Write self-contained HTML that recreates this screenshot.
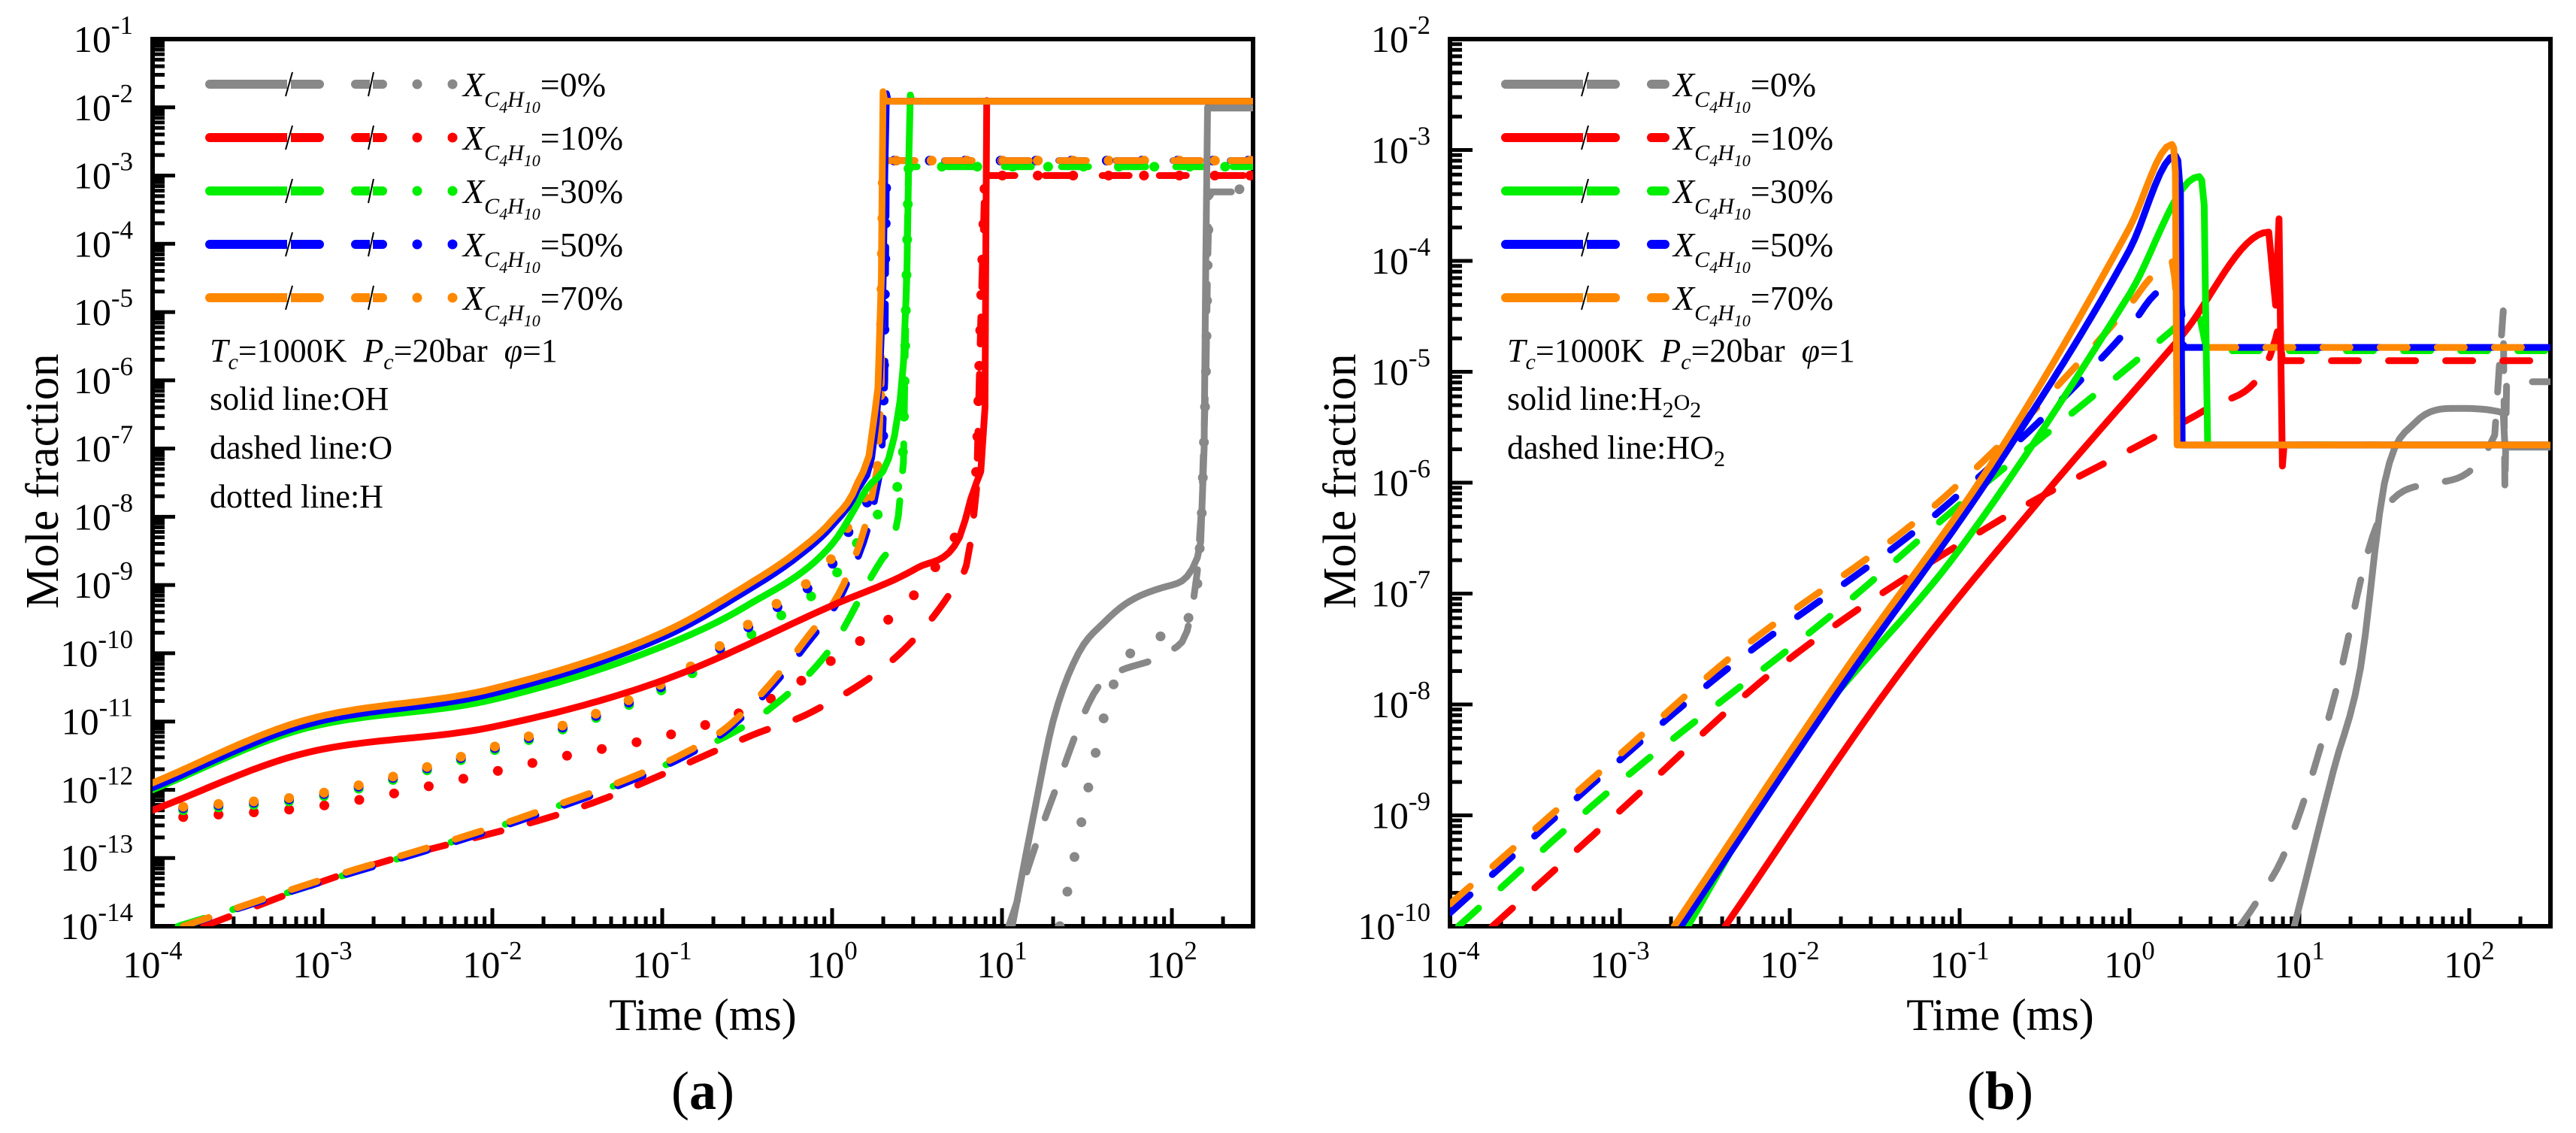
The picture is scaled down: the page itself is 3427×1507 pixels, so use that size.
<!DOCTYPE html>
<html><head><meta charset="utf-8"><style>
html,body{margin:0;padding:0;background:#fff;}
svg{display:block;font-family:"Liberation Serif",serif;}
</style></head><body>
<svg id="fig" width="3427" height="1507" viewBox="0 0 3427 1507" xmlns="http://www.w3.org/2000/svg">
<g id="panelA"></g>
<g id="panelB"></g>
</svg>
<script>
// ---------- Data (log10 of time in ms, log10 of mole fraction) ----------
const xTickExps = [-4,-3,-2,-1,0,1,2];
const yTickExpsA = [-1,-2,-3,-4,-5,-6,-7,-8,-9,-10,-11,-12,-13,-14];
const yTickExpsB = [-2,-3,-4,-5,-6,-7,-8,-9,-10];
const legendLabels = ["0%","10%","30%","50%","70%"];
const seriesColors = ["#888888","#ff0000","#00ee00","#0000ff","#ff8800"];

// Panel (a): OH solid
const ohGrayT  = [1.06,1.2,1.3,1.45,1.6,1.75,2.0,2.15,2.19,2.21,2.22,2.47];
const ohGrayY  = [-14,-12.2,-11,-10.0,-9.55,-9.24,-9.0,-8.6,-7,-2.0,-2.01,-2.01];
const ohRedT   = [-4,-3.13,-2,-1,0,0.5,0.75,0.85,0.9,0.91,0.92,2.47];
const ohRedY   = [-12.3,-11.48,-11.08,-10.4,-9.3,-8.75,-8.3,-7.5,-6.4,-1.9,-1.91,-1.91];
const ohGreenT = [-4,-3.13,-2,-1,-0.5,0,0.2,0.4,0.44,0.46,0.47,2.47];
const ohGreenY = [-12.0,-11.12,-10.68,-9.9,-9.3,-8.4,-7.6,-6.3,-4.5,-1.82,-1.91,-1.91];
const ohBlueT  = [-4,-3.13,-2,-1,-0.5,-0.2,0,0.15,0.26,0.3,0.32,0.33,2.47];
const ohBlueY  = [-11.97,-11.07,-10.59,-9.77,-9.08,-8.58,-8.13,-7.6,-6.6,-4.6,-1.8,-1.91,-1.91];
const ohOrangeT= [-4,-3.13,-2,-1,-0.5,-0.2,0,0.15,0.25,0.29,0.30,0.31,2.47];
const ohOrangeY= [-11.9,-11.0,-10.52,-9.7,-9.0,-8.5,-8.05,-7.5,-6.5,-4.5,-1.77,-1.91,-1.91];
// Panel (a): O dashed
const oGrayT  = [1.04,1.3,1.6,2.0,2.15,2.2,2.22,2.3,2.47];
const oGrayY  = [-14,-12.1,-10.4,-9.95,-8.8,-6,-3.24,-3.24,-3.24];
const oRedT   = [-3.7,-2.83,-1.45,-0.46,-0.12,0.4,0.7,0.85,0.9,0.92,2.47];
const oRedY   = [-14,-13.2,-12.23,-11.19,-10.86,-10.0,-9.1,-7.6,-3.0,-3.0,-3.0];
const oGreenT = [-3.85,-3.13,-1.8,-0.86,-0.36,0,0.3,0.42,0.45,0.47,2.47];
const oGreenY = [-14,-13.45,-12.4,-11.5,-10.8,-9.9,-8.6,-7.2,-2.87,-2.87,-2.87];
const oBlueT  = [-3.82,-3.13,-1.8,-0.86,-0.58,-0.16,0.1,0.27,0.31,0.32,0.34,2.47];
const oBlueY  = [-14,-13.45,-12.42,-11.5,-11.05,-9.9,-8.9,-7.5,-6,-2.78,-2.78,-2.78];
const oOrangeT= [-3.82,-3.13,-1.8,-0.86,-0.58,-0.16,0.1,0.25,0.29,0.30,0.32,2.47];
const oOrangeY= [-14,-13.42,-12.38,-11.45,-11.0,-9.81,-8.8,-7.5,-6,-2.78,-2.78,-2.78];
// Panel (a): H dotted
const hGrayT  = [1.34,1.7,2.0,2.15,2.2,2.22,2.47];
const hGrayY  = [-14,-10.2,-9.7,-9,-6,-3.2,-3.2];
const hRedT   = [-3.82,-2.99,-1.75,-0.5,0,0.5,0.75,0.85,0.9,0.92,2.47];
const hRedY   = [-12.4,-12.23,-11.6,-10.83,-10.1,-9.1,-8.2,-7.3,-2.95,-3.0,-3.0];
const hGreenT = [-3.82,-3.03,-2.19,-1.01,-0.4,0,0.3,0.42,0.45,0.47,2.47];
const hGreenY = [-12.3,-12.11,-11.57,-10.55,-9.6,-8.9,-7.9,-7.0,-2.87,-2.87,-2.87];
const hBlueT  = [-3.82,-3.03,-2.19,-1.01,-0.4,0,0.2,0.3,0.32,0.34,2.47];
const hBlueY  = [-12.27,-12.08,-11.54,-10.5,-9.45,-8.7,-7.8,-7.0,-2.78,-2.78,-2.78];
const hOrangeT= [-3.82,-3.03,-2.19,-1.01,-0.4,0,0.2,0.28,0.3,0.32,2.47];
const hOrangeY= [-12.25,-12.06,-11.52,-10.46,-9.4,-8.6,-7.7,-7.0,-2.78,-2.78,-2.78];

// Panel (b): H2O2 solid
const h2o2GrayT  = [0.97,1.2,1.36,1.5,1.68,1.92,2.2,2.21,2.47];
const h2o2GrayY  = [-10,-8.6,-7.67,-6.01,-5.46,-5.33,-5.37,-5.68,-5.68];
const h2o2RedT   = [-2.38,-1.37,-0.53,0.305,0.82,0.86,0.88,0.9,0.91,2.47];
const h2o2RedY   = [-10,-7.75,-6.16,-4.68,-3.74,-4.4,-3.62,-5.85,-5.66,-5.66];
const h2o2GreenT = [-2.6,-2,-1,0,0.41,0.44,0.46,0.47,2.47];
const h2o2GreenY = [-10,-8.45,-6.6,-4.3,-3.24,-3.5,-5.66,-5.66,-5.66];
const h2o2BlueT  = [-2.64,-1.7,-0.78,0,0.27,0.3,0.31,0.32,2.47];
const h2o2BlueY  = [-10,-7.85,-5.85,-3.9,-3.05,-3.4,-5.66,-5.66,-5.66];
const h2o2OrangeT= [-2.68,-1.7,-0.78,0,0.25,0.27,0.28,0.29,2.47];
const h2o2OrangeY= [-10,-7.75,-5.75,-3.7,-2.95,-3.2,-5.66,-5.66,-5.66];
// Panel (b): HO2 dashed
const ho2GrayT  = [0.65,0.74,0.93,1.22,1.4,1.49,1.77,2.15,2.2,2.21,2.22,2.47];
const ho2GrayY  = [-10,-9.8,-9.28,-7.85,-6.64,-6.27,-6.01,-5.57,-4.45,-6.09,-5.09,-5.09];
const ho2RedT   = [-3.75,-3,-2.07,-0.8,0.12,0.46,0.8,0.86,0.88,0.9,2.47];
const ho2RedY   = [-10,-8.96,-7.67,-6.37,-5.61,-5.33,-4.96,-4.7,-4.6,-4.9,-4.9];
const ho2GreenT = [-3.95,-3,-1.68,-1,0,0.24,0.4,0.44,0.46,2.47];
const ho2GreenY = [-10,-8.7,-7.1,-6.2,-4.95,-4.64,-4.45,-4.7,-4.81,-4.81];
const ho2BlueT  = [-4,-3,-2.36,-1.09,0,0.15,0.28,0.31,0.32,2.47];
const ho2BlueY  = [-9.88,-8.5,-7.67,-6.22,-4.6,-4.3,-4.2,-4.5,-4.78,-4.78];
const ho2OrangeT= [-4,-3,-2.36,-1.09,0,0.12,0.25,0.28,0.3,2.47];
const ho2OrangeY= [-9.8,-8.45,-7.59,-6.13,-4.4,-4.16,-4.0,-4.4,-4.78,-4.78];

// ---------- Helpers ----------
const NS = "http://www.w3.org/2000/svg";
function mk(tag, parent, attrs){ const e=document.createElementNS(NS,tag); for(const k in attrs) e.setAttribute(k,attrs[k]); parent.appendChild(e); return e; }

const A = {x0:203, x1:1667, y0:52, y1:1232, xmin:-4, yTop:-1, yBot:-14};
const B = {x0:1929, x1:3393, y0:52, y1:1232, xmin:-4, yTop:-2, yBot:-10};
const XDEC = 226;
function xs(p,lt){ return p.x0 + XDEC*(lt - p.xmin); }
function ys(p,ly){ return p.y0 + (p.y1-p.y0)*(p.yTop-ly)/(p.yTop-p.yBot); }

function smooth(T,Y){
  const n=T.length; if(n<3) return [T,Y];
  const d=[],m=new Array(n);
  for(let i=0;i<n-1;i++) d.push((Y[i+1]-Y[i])/(T[i+1]-T[i]));
  m[0]=d[0]; m[n-1]=d[n-2];
  for(let i=1;i<n-1;i++){ m[i]=(d[i-1]*d[i]<=0)?0:(d[i-1]+d[i])/2; }
  for(let i=0;i<n-1;i++){
    if(d[i]===0){m[i]=0;m[i+1]=0;continue;}
    const a=m[i]/d[i],b=m[i+1]/d[i],s=a*a+b*b;
    if(s>9){const t=3/Math.sqrt(s);m[i]=t*a*d[i];m[i+1]=t*b*d[i];}
  }
  const oT=[T[0]],oY=[Y[0]];
  for(let i=0;i<n-1;i++){
    const h=T[i+1]-T[i]; const N=Math.max(2,Math.min(24,Math.ceil(h*30)));
    for(let k=1;k<=N;k++){
      const t=k/N,t2=t*t,t3=t2*t;
      const y=(2*t3-3*t2+1)*Y[i]+(t3-2*t2+t)*h*m[i]+(-2*t3+3*t2)*Y[i+1]+(t3-t2)*h*m[i+1];
      oT.push(T[i]+t*h); oY.push(y);
    }
  }
  return [oT,oY];
}

function drawSeries(g,p,T,Y,color,style,name){
  const [sT,sY]=smooth(T,Y);
  let d="";
  for(let i=0;i<sT.length;i++){ d += (i?"L":"M")+xs(p,sT[i]).toFixed(1)+","+ys(p,sY[i]).toFixed(1); }
  const a={d:d,fill:"none",stroke:color,"stroke-width":9,"stroke-linecap":"round","stroke-linejoin":"round","clip-path":"url(#"+p.clip+")"};
  if(style==="dash") a["stroke-dasharray"]="36 40";
  if(style==="dot"){ a["stroke-dasharray"]="0.1 47"; a["stroke-width"]=13; }
  const e=mk("path",g,a);
  
  
}

function drawAxes(g,p,yExps,label){
  const defs=mk("defs",g,{});
  const cp=mk("clipPath",defs,{id:p.clip});
  mk("rect",cp,{x:p.x0,y:p.y0,width:p.x1-p.x0,height:p.y1-p.y0});
  const tk=mk("g",g,{stroke:"#000","stroke-width":5});
  
  
  for(let e=-4;e<=2;e++){
    for(let m=1;m<10;m++){
      const lt=e+Math.log10(m); const x=xs(p,lt); if(x>p.x1-3) continue;
      const L=(m===1)?24:13;
      mk("line",tk,{x1:x,y1:p.y1,x2:x,y2:p.y1-L});
    }
  }
  for(let e=p.yBot;e<p.yTop;e++){
    for(let m=1;m<10;m++){
      const ly=e+Math.log10(m); const y=ys(p,ly);
      const L=(m===1)?30:16;
      mk("line",tk,{x1:p.x0,y1:y,x2:p.x0+L,y2:y});
    }
  }
  const fr=mk("rect",g,{x:p.x0,y:p.y0,width:p.x1-p.x0,height:p.y1-p.y0,fill:"none",stroke:"#000","stroke-width":6});
  
  
  xTickExps.forEach(e=>{
    const t=mk("text",g,{x:xs(p,e),y:1300,"font-size":50,"text-anchor":"middle"});
    
    
    t.appendChild(document.createTextNode("10"));
    const s=mk("tspan",t,{"font-size":35,dy:-24}); s.textContent=String(e);
  });
  yExps.forEach(e=>{
    const t=mk("text",g,{x:p.x0-26,y:ys(p,e)+17,"font-size":50,"text-anchor":"end"});
    
    
    t.appendChild(document.createTextNode("10"));
    const s=mk("tspan",t,{"font-size":35,dy:-24}); s.textContent=String(e);
  });
  const cx=(p.x0+p.x1)/2;
  const xt=mk("text",g,{x:cx,y:1370,"font-size":60,"text-anchor":"middle"}); xt.textContent="Time (ms)";
  
  
  const yx=p.x0-126, yy=640;
  const yt=mk("text",g,{x:yx,y:yy,"font-size":62,"text-anchor":"middle",transform:"rotate(-90 "+yx+" "+yy+")"}); yt.textContent="Mole fraction";
  
  
  const pl=mk("text",g,{x:cx,y:1475,"font-size":72,"text-anchor":"middle"});
  
  
  pl.appendChild(document.createTextNode("("));
  const b=mk("tspan",pl,{"font-weight":"bold"}); b.textContent=label;
  pl.appendChild(document.createTextNode(")"));
}

function legend(g,dx,withDots,withSlash2){
  const rows=[112,183,254,325,396];
  rows.forEach((y,i)=>{
    const c=seriesColors[i];
    const lg=mk("g",g,{});
    
    
    mk("line",lg,{x1:279+dx,y1:y,x2:425+dx,y2:y,stroke:c,"stroke-width":12,"stroke-linecap":"round"});
    mk("line",lg,{x1:382+dx,y1:y,x2:387+dx,y2:y,stroke:"#fff","stroke-width":14});
    mk("line",lg,{x1:380+dx,y1:y+16,x2:389+dx,y2:y-16,stroke:"#000","stroke-width":2});
    if(withSlash2){
      mk("line",lg,{x1:473+dx,y1:y,x2:509+dx,y2:y,stroke:c,"stroke-width":12,"stroke-linecap":"round"});
      mk("line",lg,{x1:492+dx,y1:y,x2:496+dx,y2:y,stroke:"#fff","stroke-width":14});
      mk("line",lg,{x1:490+dx,y1:y+16,x2:497+dx,y2:y-16,stroke:"#000","stroke-width":2});
    } else {
      mk("line",lg,{x1:473+dx,y1:y,x2:491+dx,y2:y,stroke:c,"stroke-width":12,"stroke-linecap":"round"});
    }
    if(withDots){
      mk("circle",lg,{cx:555+dx,cy:y,r:6.5,fill:c});
      mk("circle",lg,{cx:602+dx,cy:y,r:6.5,fill:c});
    }
    const tx = withDots?616+dx:502+dx;
    const t=mk("text",lg,{x:tx,y:y+16,"font-size":46});
    const x1=mk("tspan",t,{"font-style":"italic"}); x1.textContent="X";
    const s1=mk("tspan",t,{"font-style":"italic","font-size":30,dy:14}); s1.textContent="C";
    const s2=mk("tspan",t,{"font-style":"italic","font-size":22,dy:8}); s2.textContent="4";
    const s3=mk("tspan",t,{"font-style":"italic","font-size":30,dy:-8}); s3.textContent="H";
    const s4=mk("tspan",t,{"font-style":"italic","font-size":22,dy:8}); s4.textContent="10";
    const s5=mk("tspan",t,{dy:-22}); s5.textContent="="+legendLabels[i];
  });
}

function notes(g,x,lines){
  const t=mk("text",g,{x:x,y:481,"font-size":44});
  
  
  const a=mk("tspan",t,{"font-style":"italic"}); a.textContent="T";
  const b=mk("tspan",t,{"font-style":"italic","font-size":30,dy:10}); b.textContent="c";
  const c=mk("tspan",t,{dy:-10}); c.textContent="=1000K\u00a0\u00a0";
  const d=mk("tspan",t,{"font-style":"italic"}); d.textContent="P";
  const e=mk("tspan",t,{"font-style":"italic","font-size":30,dy:10}); e.textContent="c";
  const f=mk("tspan",t,{dy:-10}); f.textContent="=20bar\u00a0\u00a0";
  const h=mk("tspan",t,{"font-style":"italic"}); h.textContent="\u03c6";
  const k=mk("tspan",t,{}); k.textContent="=1";
  lines.forEach((ln,i)=>{
    const tt=mk("text",g,{x:x,y:545+65*i,"font-size":44});
    
    
    ln.forEach(part=>{
      const sp=mk("tspan",tt,part[1]?{"font-size":30,dy:part[1]}:{}); sp.textContent=part[0];
    });
  });
}

A.clip="clipA"; B.clip="clipB";
// ---------- Panel A ----------
const gA=document.getElementById("panelA");
drawAxes(gA,A,yTickExpsA,"a");
const sA=mk("g",gA,{});


drawSeries(sA,A,hGrayT,hGrayY,seriesColors[0],"dot","h-0pct");
drawSeries(sA,A,hRedT,hRedY,seriesColors[1],"dot","h-10pct");
drawSeries(sA,A,hGreenT,hGreenY,seriesColors[2],"dot","h-30pct");
drawSeries(sA,A,hBlueT,hBlueY,seriesColors[3],"dot","h-50pct");
drawSeries(sA,A,hOrangeT,hOrangeY,seriesColors[4],"dot","h-70pct");
drawSeries(sA,A,oGrayT,oGrayY,seriesColors[0],"dash","o-0pct");
drawSeries(sA,A,oRedT,oRedY,seriesColors[1],"dash","o-10pct");
drawSeries(sA,A,oGreenT,oGreenY,seriesColors[2],"dash","o-30pct");
drawSeries(sA,A,oBlueT,oBlueY,seriesColors[3],"dash","o-50pct");
drawSeries(sA,A,oOrangeT,oOrangeY,seriesColors[4],"dash","o-70pct");
drawSeries(sA,A,ohGrayT,ohGrayY,seriesColors[0],"solid","oh-0pct");
drawSeries(sA,A,ohRedT,ohRedY,seriesColors[1],"solid","oh-10pct");
drawSeries(sA,A,ohGreenT,ohGreenY,seriesColors[2],"solid","oh-30pct");
drawSeries(sA,A,ohBlueT,ohBlueY,seriesColors[3],"solid","oh-50pct");
drawSeries(sA,A,ohOrangeT,ohOrangeY,seriesColors[4],"solid","oh-70pct");
const lgA=mk("g",gA,{});


legend(lgA,0,true,true);
notes(gA,279,[[["solid line:OH"]],[["dashed line:O"]],[["dotted line:H"]]]);

// ---------- Panel B ----------
const gB=document.getElementById("panelB");
drawAxes(gB,B,yTickExpsB,"b");
const sB=mk("g",gB,{});


drawSeries(sB,B,ho2GrayT,ho2GrayY,seriesColors[0],"dash","ho2-0pct");
drawSeries(sB,B,ho2RedT,ho2RedY,seriesColors[1],"dash","ho2-10pct");
drawSeries(sB,B,ho2GreenT,ho2GreenY,seriesColors[2],"dash","ho2-30pct");
drawSeries(sB,B,ho2BlueT,ho2BlueY,seriesColors[3],"dash","ho2-50pct");
drawSeries(sB,B,ho2OrangeT,ho2OrangeY,seriesColors[4],"dash","ho2-70pct");
drawSeries(sB,B,h2o2GrayT,h2o2GrayY,seriesColors[0],"solid","h2o2-0pct");
drawSeries(sB,B,h2o2RedT,h2o2RedY,seriesColors[1],"solid","h2o2-10pct");
drawSeries(sB,B,h2o2GreenT,h2o2GreenY,seriesColors[2],"solid","h2o2-30pct");
drawSeries(sB,B,h2o2BlueT,h2o2BlueY,seriesColors[3],"solid","h2o2-50pct");
drawSeries(sB,B,h2o2OrangeT,h2o2OrangeY,seriesColors[4],"solid","h2o2-70pct");
const lgB=mk("g",gB,{});


legend(lgB,1724,false,false);
notes(gB,2005,[[["solid line:H"],["2",10],["O",-10],["2",10]],[["dashed line:HO"],["2",10]]]);
</script>
</body></html>
